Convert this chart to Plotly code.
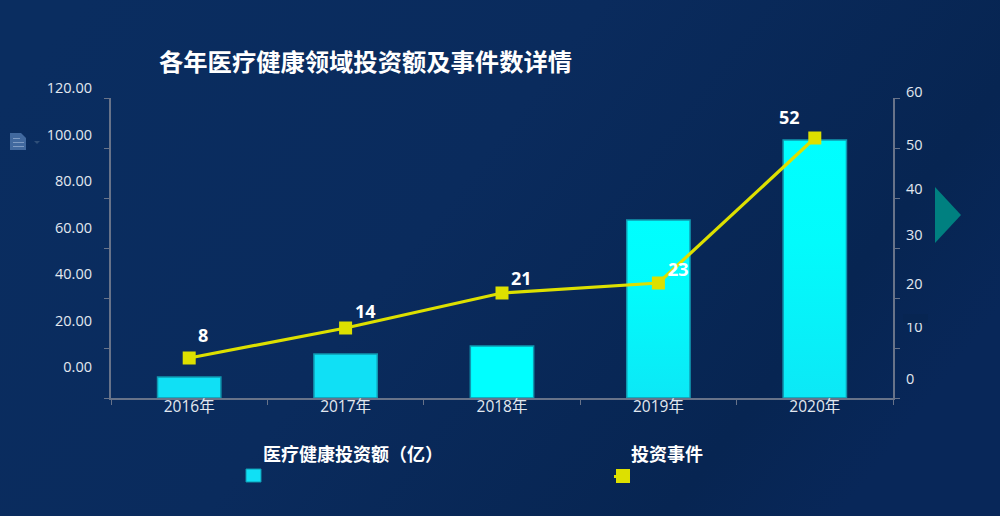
"""
Yearly healthcare investment chart: bars for amount, line for deal count
"""

import urllib.parse
import plotly.graph_objects as go

W, H = 1000, 516

years = ["2016年", "2017年", "2018年", "2019年", "2020年"]
invest_amount = [8.4, 17.6, 20.8, 71.2, 103.2]
invest_events = [8, 14, 21, 23, 52]

left_ticks = [0, 20, 40, 60, 80, 100, 120]
left_labels = ["0.00", "20.00", "40.00", "60.00", "80.00", "100.00", "120.00"]
right_ticks = [0, 10, 20, 30, 40, 50, 60]
right_labels = ["0", "10", "20", "30", "40", "50", "60"]
# where the right hand labels sit on their own (slightly uneven) axis
right_label_pos = [0, 10.9, 19.9, 30.1, 39.7, 48.9, 60]

# the last two bars fade, they get an image underneath instead of a flat fill
bar_colors = ["#10e0f5", "#10e0f5", "#00ffff", "rgba(0,0,0,0)", "rgba(0,0,0,0)"]
faded_bars = [3, 4]
BAR_WIDTH = 0.405
LINE_COLOR = "#dde000"
AXIS_COLOR = "#687389"
TEXT_COLOR = "#e2e8f0"
FONT = "Open Sans, Noto Sans CJK SC, sans-serif"
CJK_FONT = "Noto Sans CJK SC, sans-serif"


def px(x):
    return x / W


def py(y):
    return 1 - y / H


def rect(x0, y0, x1, y1, fill, line=None, layer="above"):
    return dict(
        type="rect", xref="paper", yref="paper",
        x0=px(x0), x1=px(x1), y0=py(y0), y1=py(y1),
        fillcolor=fill, line=dict(color=line or fill, width=1 if line else 0),
        layer=layer,
    )


def poly(points, fill):
    path = "M " + " L ".join(f"{px(x):.4f},{py(y):.4f}" for x, y in points) + " Z"
    return dict(type="path", xref="paper", yref="paper", path=path,
                fillcolor=fill, line=dict(width=0), layer="above")


def svg_uri(svg):
    return "data:image/svg+xml," + urllib.parse.quote(svg)


bg_svg = (
    "<svg xmlns='http://www.w3.org/2000/svg' width='1000' height='516' preserveAspectRatio='none'>"
    "<defs><linearGradient id='g' x1='0' y1='0.2' x2='1' y2='0.6'>"
    "<stop offset='0' stop-color='#0a2d60'/><stop offset='0.45' stop-color='#0a2b5d'/>"
    "<stop offset='0.85' stop-color='#072552'/><stop offset='1' stop-color='#082759'/>"
    "</linearGradient></defs><rect width='1000' height='516' fill='url(#g)'/></svg>"
)
bar_svg = (
    "<svg xmlns='http://www.w3.org/2000/svg' width='10' height='100' preserveAspectRatio='none'>"
    "<defs><linearGradient id='b' x1='0' y1='0' x2='0' y2='1'>"
    "<stop offset='0' stop-color='#00ffff'/><stop offset='0.4' stop-color='#02fbfc'/>"
    "<stop offset='1' stop-color='#0ce8f6'/>"
    "</linearGradient></defs><rect width='10' height='100' fill='url(#b)'/></svg>"
)

fig = go.Figure()

fig.add_trace(go.Bar(
    x=years, y=invest_amount, width=BAR_WIDTH, yaxis="y",
    marker=dict(color=bar_colors, line=dict(color="#1098b0", width=1.5)),
))
fig.add_trace(go.Scatter(
    x=years, y=invest_events, yaxis="y2", mode="lines+markers",
    line=dict(color=LINE_COLOR, width=3.2),
    marker=dict(symbol="square", size=13, color=LINE_COLOR),
))
# helper traces, they only make the two label axes show up
fig.add_trace(go.Scatter(x=years[:1], y=left_ticks[:1], yaxis="y3", mode="none", hoverinfo="skip"))
fig.add_trace(go.Scatter(x=years[:1], y=right_ticks[:1], yaxis="y4", mode="none", hoverinfo="skip"))

label_shift = [(14, 23), (20, 17), (19, 15), (20, 14), (-25, 21)]
annotations = [
    dict(x=year, y=val, xref="x", yref="y2", text=str(val), showarrow=False,
         xshift=dx, yshift=dy, font=dict(family=FONT, size=18, color="#ffffff", weight="bold"))
    for year, val, (dx, dy) in zip(years, invest_events, label_shift)
]
# legend is laid out by hand, text sits above and right of the swatch
annotations += [
    dict(x=px(261), y=py(453), xref="paper", yref="paper", xanchor="left", yanchor="middle", showarrow=False,
         text="医疗健康投资额（亿）", font=dict(family=CJK_FONT, size=18, color="#ffffff", weight="bold")),
    dict(x=px(629), y=py(453), xref="paper", yref="paper", xanchor="left", yanchor="middle", showarrow=False,
         text="投资事件", font=dict(family=CJK_FONT, size=18, color="#ffffff", weight="bold")),
]

shapes = [
    rect(246, 469, 261, 482, "#10e0f5", "#1098b0"),
    rect(616, 469, 630, 483, LINE_COLOR),
    rect(614, 475, 617, 478, LINE_COLOR),
    # part of the "10" label is hidden in the original
    rect(903, 314, 928, 323, "#072552"),
    # right arrow
    poly([(935, 187), (961, 215), (935, 243)], "#008080"),
    # save icon and its caret
    poly([(10, 133), (21, 133), (26, 138), (26, 150), (10, 150)], "#41699f"),
    rect(13, 138, 20, 139, "#7f9cc4"),
    rect(13, 142, 24, 143, "#7f9cc4"),
    rect(13, 146, 24, 147, "#7f9cc4"),
    poly([(34, 141), (40, 141), (37, 144)], "#2f4f78"),
]

images = [dict(source=svg_uri(bg_svg), xref="paper", yref="paper", x=0, y=1, sizex=1, sizey=1,
               xanchor="left", yanchor="top", sizing="stretch", layer="below")]
for i in faded_bars:
    images.append(dict(source=svg_uri(bar_svg), xref="x", yref="y", x=i, y=invest_amount[i],
                       sizex=BAR_WIDTH, sizey=invest_amount[i], xanchor="center", yanchor="top",
                       sizing="stretch", layer="below"))

axis_style = dict(showgrid=False, zeroline=False, showline=True, linecolor=AXIS_COLOR, linewidth=1.5,
                  ticks="outside", ticklen=5, tickwidth=1, tickcolor=AXIS_COLOR, automargin=False)
label_style = dict(showgrid=False, zeroline=False, showline=False, ticks="", automargin=False,
                   tickfont=dict(family=FONT, size=14.5, color=TEXT_COLOR))

fig.update_layout(
    width=W, height=H,
    margin=dict(l=0, r=0, t=0, b=0),
    showlegend=False,
    paper_bgcolor="#0a2b5d",
    plot_bgcolor="rgba(0,0,0,0)",
    title=dict(text="各年医疗健康领域投资额及事件数详情", x=px(159), xref="paper", xanchor="left",
               y=py(62), yref="paper", yanchor="middle", automargin=False,
               font=dict(family=CJK_FONT, size=24.3, color="#ffffff", weight="bold")),
    images=images,
    xaxis=dict(domain=[px(111), px(893)], type="category", range=[-0.5, 4.5], tickson="boundaries",
               tickfont=dict(family=FONT, size=15.5, color=TEXT_COLOR), ticklabelstandoff=-6, **axis_style),
    yaxis=dict(domain=[py(398), py(98)], range=[0, 120], tickvals=left_ticks, showticklabels=False, **axis_style),
    yaxis2=dict(overlaying="y", side="right", anchor="x", range=[0, 60], tickvals=right_ticks,
                showticklabels=False, **axis_style),
    yaxis3=dict(domain=[py(367), py(88)], range=[0, 120], tickvals=left_ticks, ticktext=left_labels,
                anchor="free", position=px(92), side="left", **label_style),
    yaxis4=dict(domain=[py(379), py(92)], range=[0, 60], tickvals=right_label_pos, ticktext=right_labels,
                anchor="free", position=px(905), side="right", **label_style),
    annotations=annotations,
    shapes=shapes,
)

# the page margin would push the figure off the 1000x516 window
fig.write_html(
    "out.html",
    config={"displayModeBar": False},
    post_script="document.body.style.margin='0';document.documentElement.style.overflow='hidden';",
)
